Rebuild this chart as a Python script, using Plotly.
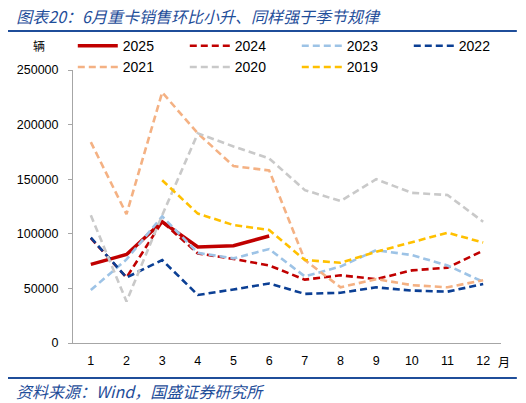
import plotly.graph_objects as go

months = list(range(1, 13))
month_labels = [str(m) for m in months]

# monthly heavy truck sales (vehicles)
sales_2025 = [72000, 81000, 111000, 88000, 89000, 98000, None, None, None, None, None, None]
sales_2024 = [96000, 60000, 111000, 82000, 77000, 71000, 58000, 62000, 58500, 66500, 69000, 84500]
sales_2023 = [48500, 76500, 116000, 82500, 77500, 86000, 61000, 70000, 85000, 80500, 71000, 56000]
sales_2022 = [96500, 60000, 76000, 44000, 49000, 54500, 45000, 46000, 51000, 48000, 47000, 54000]
sales_2021 = [184000, 118000, 229500, 192000, 162000, 158000, 76000, 51000, 58500, 53000, 51000, 57500]
sales_2020 = [117000, 38000, 117000, 192000, 180000, 169000, 140000, 130000, 150000, 137500, 135500, 111000]
sales_2019 = [None, None, 149000, 118500, 108000, 103500, 76000, 73500, 83500, 92000, 101000, 92000]

series = [
    ("2025", sales_2025, "#C00000", "solid", 3.5),
    ("2024", sales_2024, "#C00000", "7px,4px", 2.6),
    ("2023", sales_2023, "#9DC3E6", "7px,4px", 2.6),
    ("2022", sales_2022, "#0B3F94", "7px,4px", 2.6),
    ("2021", sales_2021, "#F4B183", "7px,4px", 2.6),
    ("2020", sales_2020, "#C9C9C9", "7px,4px", 2.6),
    ("2019", sales_2019, "#FFC000", "7px,4px", 2.6),
]

title_text = "图表20：6月重卡销售环比小升、同样强于季节规律"
source_text = "资料来源：Wind，国盛证券研究所"
blue = "#1F4E9A"
cjk = "Noto Sans CJK SC"

fig = go.Figure()

for name, vals, color, dash, width in series:
    fig.add_trace(go.Scatter(
        x=month_labels, y=vals, name=name, mode="lines",
        line=dict(color=color, dash=dash, width=width),
        connectgaps=False,
    ))

# page body adds an 8px offset, so the figure is 8px smaller on each side
fig.update_layout(
    width=518, height=395,
    margin=dict(l=65, r=25, t=62, b=60, autoexpand=False),
    paper_bgcolor="white", plot_bgcolor="white",
    font=dict(family="Liberation Sans", size=12.5, color="#000000"),
    showlegend=True,
    legend=dict(
        orientation="h", xref="paper", yref="paper",
        x=-0.0005, y=1.146, xanchor="left", yanchor="top",
        entrywidth=57, entrywidthmode="pixels",
        itemwidth=40, tracegroupgap=0,
        font=dict(family="Liberation Sans", size=14),
        bgcolor="rgba(0,0,0,0)",
    ),
    title=dict(
        text=title_text, x=0.016, xref="container", xanchor="left",
        y=0.99, yref="container", yanchor="top",
        font=dict(family=cjk, size=16, color=blue, style="italic"),
    ),
)

fig.update_xaxes(
    type="category", range=[-0.5, 11.5],
    showline=True, linecolor="#A6A6A6", linewidth=1,
    ticks="", showgrid=False, zeroline=False,
    ticklabelstandoff=6,
)
fig.update_yaxes(
    range=[0, 250000], dtick=50000, tickformat="d",
    showline=True, linecolor="#A6A6A6", linewidth=1,
    ticks="outside", ticklen=4, tickcolor="#A6A6A6",
    ticklabelstandoff=7,
    showgrid=False, zeroline=False,
)

# unit labels
fig.add_annotation(text="辆", xref="paper", yref="paper",
                   x=-0.08, y=1.088, xanchor="center", yanchor="middle",
                   showarrow=False, font=dict(family=cjk, size=12))
fig.add_annotation(text="月", xref="paper", yref="paper",
                   x=1.007, y=-0.066, xanchor="center", yanchor="middle",
                   showarrow=False, font=dict(family=cjk, size=12))
fig.add_annotation(text=source_text, xref="paper", yref="paper",
                   x=-0.138, y=-0.176, xanchor="left", yanchor="middle",
                   showarrow=False,
                   font=dict(family=cjk, size=16, color=blue, style="italic"))

# blue rules under the title and above the source
fig.add_shape(type="line", xref="paper", yref="paper",
              x0=-0.159, x1=1.037, y0=1.143, y1=1.143,
              line=dict(color=blue, width=2))
fig.add_shape(type="line", xref="paper", yref="paper",
              x0=-0.159, x1=1.037, y0=-0.128, y1=-0.128,
              line=dict(color=blue, width=2))

fig.write_html("out.html")
